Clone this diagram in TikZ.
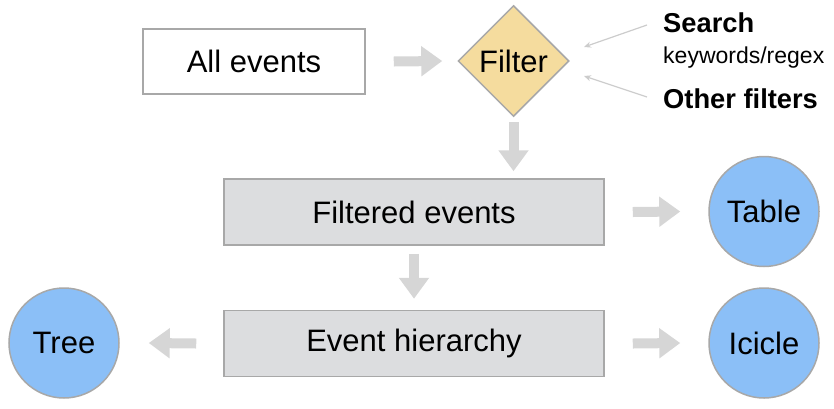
\documentclass[tikz,border=0pt]{standalone}
\usepackage{fontspec}
\setmainfont{Liberation Sans}
\usetikzlibrary{shapes.geometric,arrows.meta}
\definecolor{bordergray}{HTML}{A8A8A8}
\definecolor{boxgray}{HTML}{DCDDDF}
\definecolor{fatgray}{HTML}{D6D6D6}
\definecolor{thingray}{HTML}{CCCCCC}
\definecolor{circblue}{HTML}{8BBFF7}
\definecolor{diamyellow}{HTML}{F5DC9E}
\tikzset{
  mainfont/.style={font=\fontsize{31}{36}\selectfont},
  whitebox/.style={draw=bordergray, line width=1.5pt, fill=white, minimum width=222pt, minimum height=65pt, inner sep=0pt, mainfont},
  graybox/.style={draw=bordergray, line width=1.5pt, fill=boxgray, minimum width=380pt, minimum height=66pt, inner sep=0pt, mainfont},
  bluecirc/.style={circle, draw=bordergray, line width=1.5pt, fill=circblue, minimum size=110pt, inner sep=0pt, mainfont},
  decision/.style={diamond, aspect=1, draw=bordergray, line width=1.5pt, fill=diamyellow, minimum size=111pt, inner sep=0pt, mainfont},
  fatarrow/.style={draw=fatgray, line width=10pt, -{Triangle[length=21pt,width=29pt]}},
  thinarrow/.style={draw=thingray, line width=1.2pt, -{Stealth[length=7pt,width=6pt]}},
  boldlabel/.style={anchor=base west, inner sep=0pt, font=\fontsize{27.3}{30}\selectfont\bfseries},
  smalllabel/.style={anchor=base west, inner sep=0pt, font=\fontsize{23}{26}\selectfont},
}
\begin{document}
\begin{tikzpicture}[x=1pt,y=-1pt]
\useasboundingbox (0,0) rectangle (834,408);
\node[whitebox] (all) at (254,61.5) {All events};
\node[decision] (filter) at (513.5,61) {Filter};
\node[graybox] (filtered) at (414,212) {Filtered events};
\node[graybox] (hier) at (414,343.5) {Event hierarchy};
\node[bluecirc] (table) at (764,211.5) {Table};
\node[bluecirc] (icicle) at (764,343) {Icicle};
\node[bluecirc] (tree) at (64,343) {Tree};
\node[boldlabel] (search) at (663,32.5) {Search};
\node[smalllabel] (kw) at (663,63) {keywords/regex};
\node[boldlabel] (other) at (663,108) {Other filters};
\coordinate (s1) at (647,25);
\coordinate (s2) at (647,97);
\coordinate (t1) at (584,47);
\coordinate (t2) at (584,76);
\coordinate (fe) at (filtered.north -| filter.south);

\draw[fatarrow] ([xshift=28pt]all.east) -- ([xshift=-15pt]filter.west);
\draw[fatarrow] ([yshift=-5pt]filter.south) -- ([yshift=7pt]fe);
\draw[fatarrow] ([xshift=28pt]filtered.east) -- ([xshift=-28pt]table.west);
\draw[fatarrow] ([yshift=-8pt]filtered.south) -- ([yshift=11pt]hier.north);
\draw[fatarrow] ([xshift=-27pt]hier.west) -- ([xshift=29pt]tree.east);
\draw[fatarrow] ([xshift=28pt]hier.east) -- ([xshift=-28pt]icicle.west);
\draw[thinarrow] (s1) -- (t1);
\draw[thinarrow] (s2) -- (t2);
\end{tikzpicture}
\end{document}
